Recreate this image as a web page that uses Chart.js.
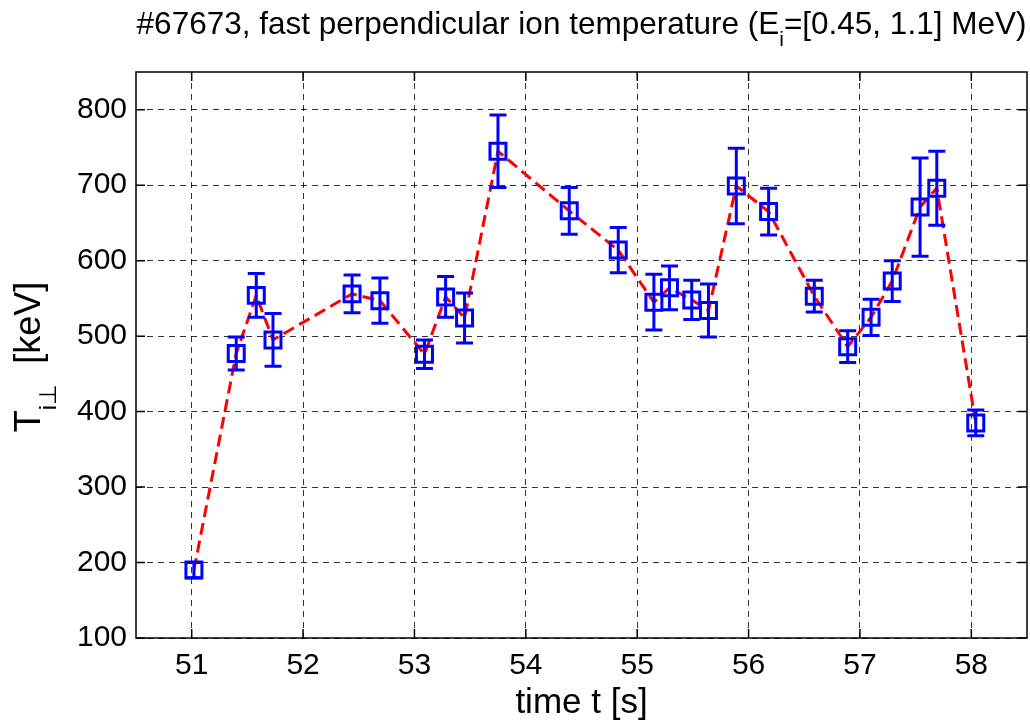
<!DOCTYPE html>
<html>
<head>
<meta charset="utf-8">
<script src="https://cdn.jsdelivr.net/npm/chart.js@4.4.1/dist/chart.umd.min.js"></script>
<style>
  html, body { margin: 0; padding: 0; background: #fff; }
  #c { display: block; }
</style>
</head>
<body>
<canvas id="c" width="1030" height="722"></canvas>
<script>
// valeurs
const times = [51.02, 51.40, 51.58, 51.73, 52.44, 52.69, 53.09, 53.28, 53.45, 53.75,
               54.39, 54.83, 55.15, 55.29, 55.49, 55.64, 55.89, 56.18, 56.59, 56.89,
               57.10, 57.29, 57.54, 57.69, 58.04];
const temps = [190, 477, 554, 495, 556, 547, 476, 552, 524, 745,
               666, 614, 545, 564, 548, 534, 699, 665, 553, 486,
               525, 573, 671, 696, 385];
const errs = [10, 22, 29, 35, 25, 30, 19, 27, 33, 48,
              31, 30, 37, 29, 26, 35, 50, 31, 21, 21,
              24, 27, 65, 49, 17];
const xTicks = [51, 52, 53, 54, 55, 56, 57, 58];
const yTicks = [100, 200, 300, 400, 500, 600, 700, 800];

const FONT = '"Liberation Sans", Arial, Helvetica, sans-serif';
const points = times.map((t, i) => ({ x: t, y: temps[i] }));

// texte avec indice : morceaux centrés autour de x
function drawParts(ctx, parts, x, y) {
    let total = 0;
    parts.forEach(p => {
        ctx.font = p.size + 'px ' + FONT;
        p.w = ctx.measureText(p.text).width;
        total += p.w;
    });
    let cx = x - total / 2;
    ctx.textAlign = 'left';
    ctx.textBaseline = 'alphabetic';
    parts.forEach(p => {
        ctx.font = p.size + 'px ' + FONT;
        ctx.fillText(p.text, cx, y + (p.dy || 0));
        cx += p.w;
    });
}

const decor = {
    id: 'decor',
    beforeDraw(chart) {
        const ctx = chart.ctx;
        ctx.save();
        ctx.fillStyle = '#fff';
        ctx.fillRect(0, 0, chart.width, chart.height);
        ctx.restore();
    },
    afterDatasetsDraw(chart) {
        const ctx = chart.ctx;
        const xs = chart.scales.x, ys = chart.scales.y;
        const a = chart.chartArea;

        // barres d'erreur
        ctx.save();
        ctx.strokeStyle = '#0000ff';
        ctx.lineWidth = 3;
        times.forEach((t, i) => {
            const px = xs.getPixelForValue(t);
            const top = ys.getPixelForValue(temps[i] + errs[i]);
            const bot = ys.getPixelForValue(temps[i] - errs[i]);
            ctx.beginPath();
            ctx.moveTo(px, top); ctx.lineTo(px, bot);
            ctx.moveTo(px - 8.5, top); ctx.lineTo(px + 8.5, top);
            ctx.moveTo(px - 8.5, bot); ctx.lineTo(px + 8.5, bot);
            ctx.stroke();
        });
        ctx.restore();

        // cadre et graduations internes
        ctx.save();
        ctx.strokeStyle = '#000';
        ctx.lineWidth = 1.5;
        ctx.strokeRect(a.left, a.top, a.right - a.left, a.bottom - a.top);
        ctx.beginPath();
        xTicks.forEach(v => {
            const px = xs.getPixelForValue(v);
            ctx.moveTo(px, a.bottom); ctx.lineTo(px, a.bottom - 9);
            ctx.moveTo(px, a.top); ctx.lineTo(px, a.top + 9);
        });
        yTicks.forEach(v => {
            const py = ys.getPixelForValue(v);
            ctx.moveTo(a.left, py); ctx.lineTo(a.left + 9, py);
            ctx.moveTo(a.right, py); ctx.lineTo(a.right - 9, py);
        });
        ctx.stroke();
        ctx.restore();

        // titres
        ctx.save();
        ctx.fillStyle = '#000';
        const cx = (a.left + a.right) / 2;
        drawParts(ctx, [
            { text: '#67673, fast perpendicular ion temperature (E', size: 31.5 },
            { text: 'i', size: 21, dy: 12 },
            { text: '=[0.45, 1.1] MeV)', size: 31.5 }
        ], cx, 34);
        drawParts(ctx, [{ text: 'time t [s]', size: 35 }], cx, 713);
        ctx.translate(40, 357);
        ctx.rotate(-Math.PI / 2);
        drawParts(ctx, [
            { text: 'T', size: 36 },
            { text: 'i\u22a5', size: 24, dy: 16 },
            { text: '  [keV]', size: 36 }
        ], 0, 0);
        ctx.restore();
    }
};

const chart = new Chart(document.getElementById('c').getContext('2d'), {
    type: 'scatter',
    data: {
        datasets: [{
            label: 'Ti',
            data: points,
            showLine: false,
            pointStyle: 'rect',
            pointRadius: 11.3,
            pointHoverRadius: 11.3,
            pointBorderWidth: 3,
            pointBorderColor: '#0000ff',
            pointBackgroundColor: 'rgba(0,0,0,0)'
        }, {
            label: 'ligne',
            data: points,
            showLine: true,
            borderColor: '#ff0000',
            borderWidth: 3,
            borderDash: [12, 6],
            pointRadius: 0,
            tension: 0
        }]
    },
    options: {
        responsive: false,
        animation: false,
        devicePixelRatio: 1,
        // autoPadding coupé : sinon la taille des carrés rogne la zone à droite
        layout: { autoPadding: false, padding: { top: 72, right: 3, left: 0, bottom: 0 } },
        plugins: { legend: { display: false }, tooltip: { enabled: false } },
        scales: {
            x: {
                type: 'linear',
                min: 50.5,
                max: 58.5,
                afterBuildTicks: s => { s.ticks = xTicks.map(v => ({ value: v })); },
                afterFit: s => { s.height = 84; s.paddingLeft = 0; s.paddingRight = 0; },
                grid: { color: 'rgba(0,0,0,0.8)', lineWidth: 1, drawTicks: false },
                border: { display: false, dash: [6, 5] },
                ticks: { color: '#000', padding: 10, font: { family: FONT, size: 30 } }
            },
            y: {
                min: 100,
                max: 850,
                afterBuildTicks: s => { s.ticks = yTicks.map(v => ({ value: v })); },
                afterFit: s => { s.width = 136; },
                grid: { color: 'rgba(0,0,0,0.8)', lineWidth: 1, drawTicks: false },
                border: { display: false, dash: [6, 5] },
                ticks: { color: '#000', padding: 9, font: { family: FONT, size: 30 } }
            }
        }
    },
    plugins: [decor]
});
</script>
</body>
</html>
